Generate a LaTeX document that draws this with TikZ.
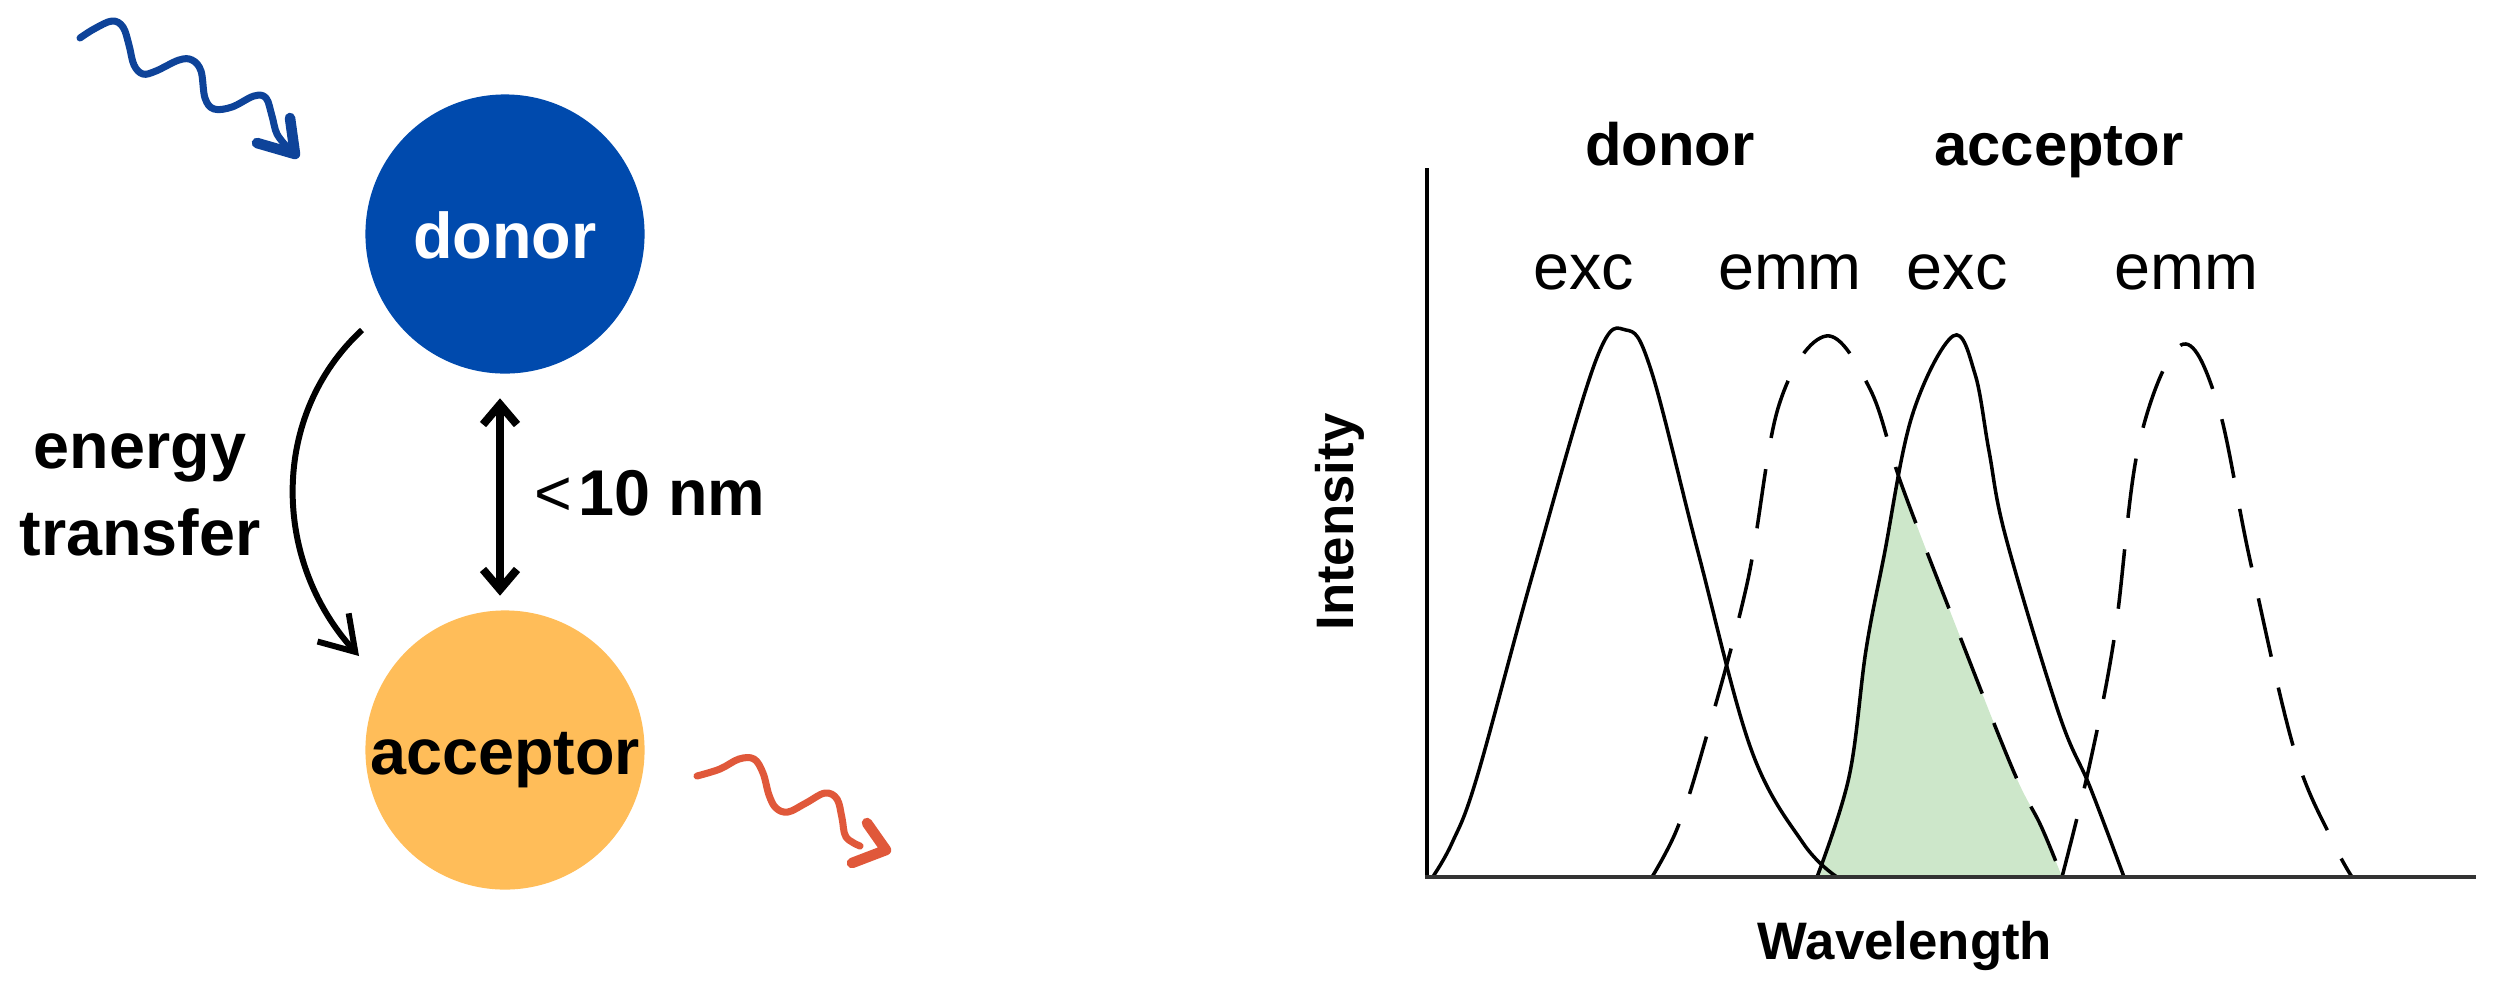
\documentclass[tikz,border=0pt]{standalone}
\usepackage{fontspec}
\setmainfont{Liberation Sans}
\usetikzlibrary{arrows.meta}
\definecolor{donorblue}{HTML}{004AAD}
\definecolor{accorange}{HTML}{FFBD59}
\definecolor{wavblue}{HTML}{0E4399}
\definecolor{wavred}{HTML}{E0583A}
\definecolor{overlapgreen}{HTML}{CDE7CA}
\definecolor{axisgrey}{HTML}{333333}
\newcommand\moltxt{\fontsize{18.4pt}{24.8pt}\selectfont}
\newcommand\graphbold{\fontsize{17pt}{20pt}\selectfont}
\newcommand\graphreg{\fontsize{18.4pt}{22pt}\selectfont}
\newcommand\axistxt{\fontsize{15pt}{18pt}\selectfont}
\begin{document}
\begin{tikzpicture}[x=0.01cm,y=-0.01cm,
  mol/.style={circle,minimum size=2.79cm,inner sep=0pt,text height=0.48cm,text depth=0cm,font=\moltxt\bfseries},
  plainlbl/.style={inner sep=0pt,font=\moltxt\bfseries},
  etarrow/.style={line width=1.7pt,-{Straight Barb[length=0.33cm,width=0.42cm]}},
  dblarrow/.style={line width=2.3pt,{Straight Barb[length=0.2cm,width=0.34cm]}-{Straight Barb[length=0.2cm,width=0.34cm]}},
  wavyline/.style={line width=2pt,line cap=round,line join=round},
  wavyhead/.style={line width=3pt,line cap=round,line join=round},
  solidcurve/.style={line width=1pt,black},
  dashcurve/.style={line width=1pt,black,dash pattern=on 17pt off 9pt},
  graphlbl/.style={inner sep=0pt,anchor=base,font=\graphreg},
  graphhead/.style={inner sep=0pt,anchor=base,font=\graphbold\bfseries},
  axislbl/.style={inner sep=0pt,anchor=base,font=\axistxt\bfseries}]
\path[use as bounding box] (0,0) rectangle (2493,990);

% ---------------- left part ----------------
\node[mol,fill=donorblue,text=white] (donor) at (505,234) {donor};
\node[mol,fill=accorange,text=black] (acceptor) at (505,750) {acceptor};

% incoming photon (blue)
\draw[wavyline,wavblue] plot[smooth,tension=0.6] coordinates {
  (80,38) (94,29) (112,21) (123,27) (129,45) (134,65) (143,74) (156,71)
  (179,60) (192,60) (201,71) (205,98) (214,109) (232,107) (254,96)
  (266,98) (272,116) (277,134) (288,148)};
\draw[wavyhead,wavblue] (290,118) -- (295,154) -- (257,143);

% emitted photon (red)
\draw[wavyline,wavred] plot[smooth,tension=0.6] coordinates {
  (697,776) (720,769) (739,759) (754,759) (763,773) (769,795) (776,808)
  (788,812) (806,803) (825,793) (837,799) (842,818) (846,837) (860,846)};
\draw[wavyhead,wavred] (867,823) -- (886,850) -- (852,863);

% energy transfer arrow
\draw[etarrow] ([shift={(-143,96)}]donor.center)
  .. controls ([shift={(-235,181)}]donor.center) and ([shift={(-233,-190)}]acceptor.center)
  .. ([shift={(-146,-94)}]acceptor.center);
\node[plainlbl,align=center] (etlabel) at (140,495) {energy\\transfer};

% distance arrow
\draw[dblarrow,shorten <=0.24cm,shorten >=0.14cm]
  ([shift={(-5,0)}]donor.south) -- ([shift={(-5,0)}]acceptor.north);
\node[plainlbl,anchor=base west] (dist) at (534,515) {{\mdseries <}\hspace{0.06cm}10 nm};

% ---------------- spectra ----------------
\def\donoremm{(1652,877) (1677,829) (1702,752) (1747,584) (1779,405)
    (1826,336) (1870,389) (1902,486) (1957,629) (2013,770) (2041,826) (2062,877)}
\def\accexc{(1817,877) (1849,777) (1866,650) (1884,556) (1912,416)
    (1953,336) (1975,374) (1989,451) (2006,538) (2059,714) (2090,787) (2124,877)}
\begin{scope}
  \clip plot[smooth,tension=0.6] coordinates {\donoremm} -- cycle;
  \fill[overlapgreen] plot[smooth,tension=0.6] coordinates {\accexc} -- cycle;
\end{scope}

% donor excitation
\draw[solidcurve] plot[smooth,tension=0.6] coordinates {
  (1432,878) (1452,843) (1477,777) (1533,573) (1596,360) (1626,330)
  (1651,370) (1698,552) (1751,749) (1803,843) (1837,877)};
% donor emission
\draw[dashcurve] plot[smooth,tension=0.6] coordinates {\donoremm};
% acceptor excitation
\draw[solidcurve] plot[smooth,tension=0.6] coordinates {\accexc};
% acceptor emission
\draw[dashcurve] plot[smooth,tension=0.6] coordinates {
  (2062,877) (2090,763) (2115,633) (2139,444) (2181,345) (2217,402)
  (2250,560) (2294,749) (2332,840) (2352,877)};

% axes
\coordinate (origin) at (1427,877);
\coordinate (ytop) at (1427,168);
\coordinate (xend) at (2476,877);
\draw[line width=0.9pt,black] (origin) -- (ytop);
\draw[line width=1.4pt,axisgrey] ([shift={(-2,0)}]origin) -- (xend);

% labels
\node[graphhead] (hdonor) at (1670,165) {donor};
\node[graphhead] (hacceptor) at (2059,165) {acceptor};
\node[graphlbl] (exc1) at (1584,289) {exc};
\node[graphlbl] (emm1) at (1790,289) {emm};
\node[graphlbl] (exc2) at (1957,289) {exc};
\node[graphlbl] (emm2) at (2186,289) {emm};
\node[axislbl,rotate=90] (ylbl) at (1353,522) {Intensity};
\node[axislbl] (xlbl) at (1905,959) {Wavelength};
\end{tikzpicture}
\end{document}
